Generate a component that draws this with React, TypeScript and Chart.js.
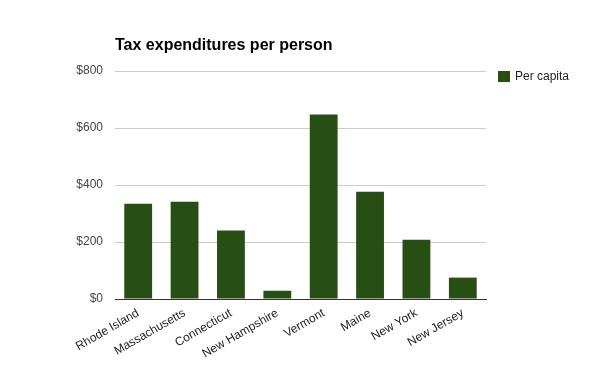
import React, { useEffect, useRef } from "react";
import { Chart, registerables } from "chart.js";

Chart.register(...registerables);

const categories = ["Rhode Island", "Massachusetts", "Connecticut", "New Hampshire", "Vermont", "Maine", "New York", "New Jersey"];
const perCapita = [334, 341, 240, 29, 647, 376, 208, 75];
const seriesName = "Per capita";
const titleText = "Tax expenditures per person";

const BAR_COLOR = "#274e13";
const FONT = "Arial, 'Liberation Sans', sans-serif";

export default function App() {
  const ref = useRef<HTMLCanvasElement | null>(null);

  useEffect(() => {
    document.body.style.margin = "0";
    const canvas = ref.current;
    if (!canvas) return;

    const overlay = {
      id: "overlay",
      afterDraw(chart: any) {
        const ctx = chart.ctx;
        const area = chart.chartArea;
        ctx.save();
        // title
        ctx.fillStyle = "#000";
        ctx.font = `bold 16px ${FONT}`;
        ctx.textAlign = "left";
        ctx.textBaseline = "alphabetic";
        ctx.fillText(titleText, area.left, 50);
        // legend
        const lx = area.right + 12;
        const ly = 71;
        ctx.fillStyle = BAR_COLOR;
        ctx.fillRect(lx, ly, 12, 11);
        ctx.fillStyle = "#222";
        ctx.font = `12px ${FONT}`;
        ctx.textBaseline = "middle";
        ctx.fillText(seriesName, lx + 17, ly + 6);
        ctx.restore();
      },
    };

    const chart = new Chart(canvas, {
      type: "bar",
      data: {
        labels: categories,
        datasets: [
          {
            label: seriesName,
            data: perCapita,
            backgroundColor: BAR_COLOR,
            borderWidth: 0,
            barPercentage: 0.6,
            categoryPercentage: 1,
          },
        ],
      },
      options: {
        responsive: false,
        animation: false,
        devicePixelRatio: 1,
        layout: { padding: { top: 71, right: 114, left: 0, bottom: 0 } },
        plugins: {
          legend: { display: false },
          title: { display: false },
          tooltip: { enabled: false },
        },
        scales: {
          x: {
            grid: { display: false, drawTicks: false },
            border: { display: true, color: "#333", width: 1 },
            ticks: {
              color: "#222",
              font: { family: FONT, size: 12 },
              maxRotation: 30,
              minRotation: 30,
              autoSkip: false,
              padding: 7,
            },
            afterFit: (s: any) => {
              s.height = 72;
            },
          },
          y: {
            min: 0,
            max: 800,
            grid: {
              color: (c: any) => (c.tick && c.tick.value === 0 ? "#333" : "#cccccc"),
              drawTicks: false,
            },
            border: { display: false },
            ticks: {
              stepSize: 200,
              color: "#444",
              font: { family: FONT, size: 12 },
              padding: 12,
              callback: (v: any) => "$" + v,
            },
            afterFit: (s: any) => {
              s.width = 115;
            },
          },
        },
      },
      plugins: [overlay],
    });

    return () => chart.destroy();
  }, []);

  return <canvas ref={ref} width={600} height={371} style={{ display: "block" }} />;
}
